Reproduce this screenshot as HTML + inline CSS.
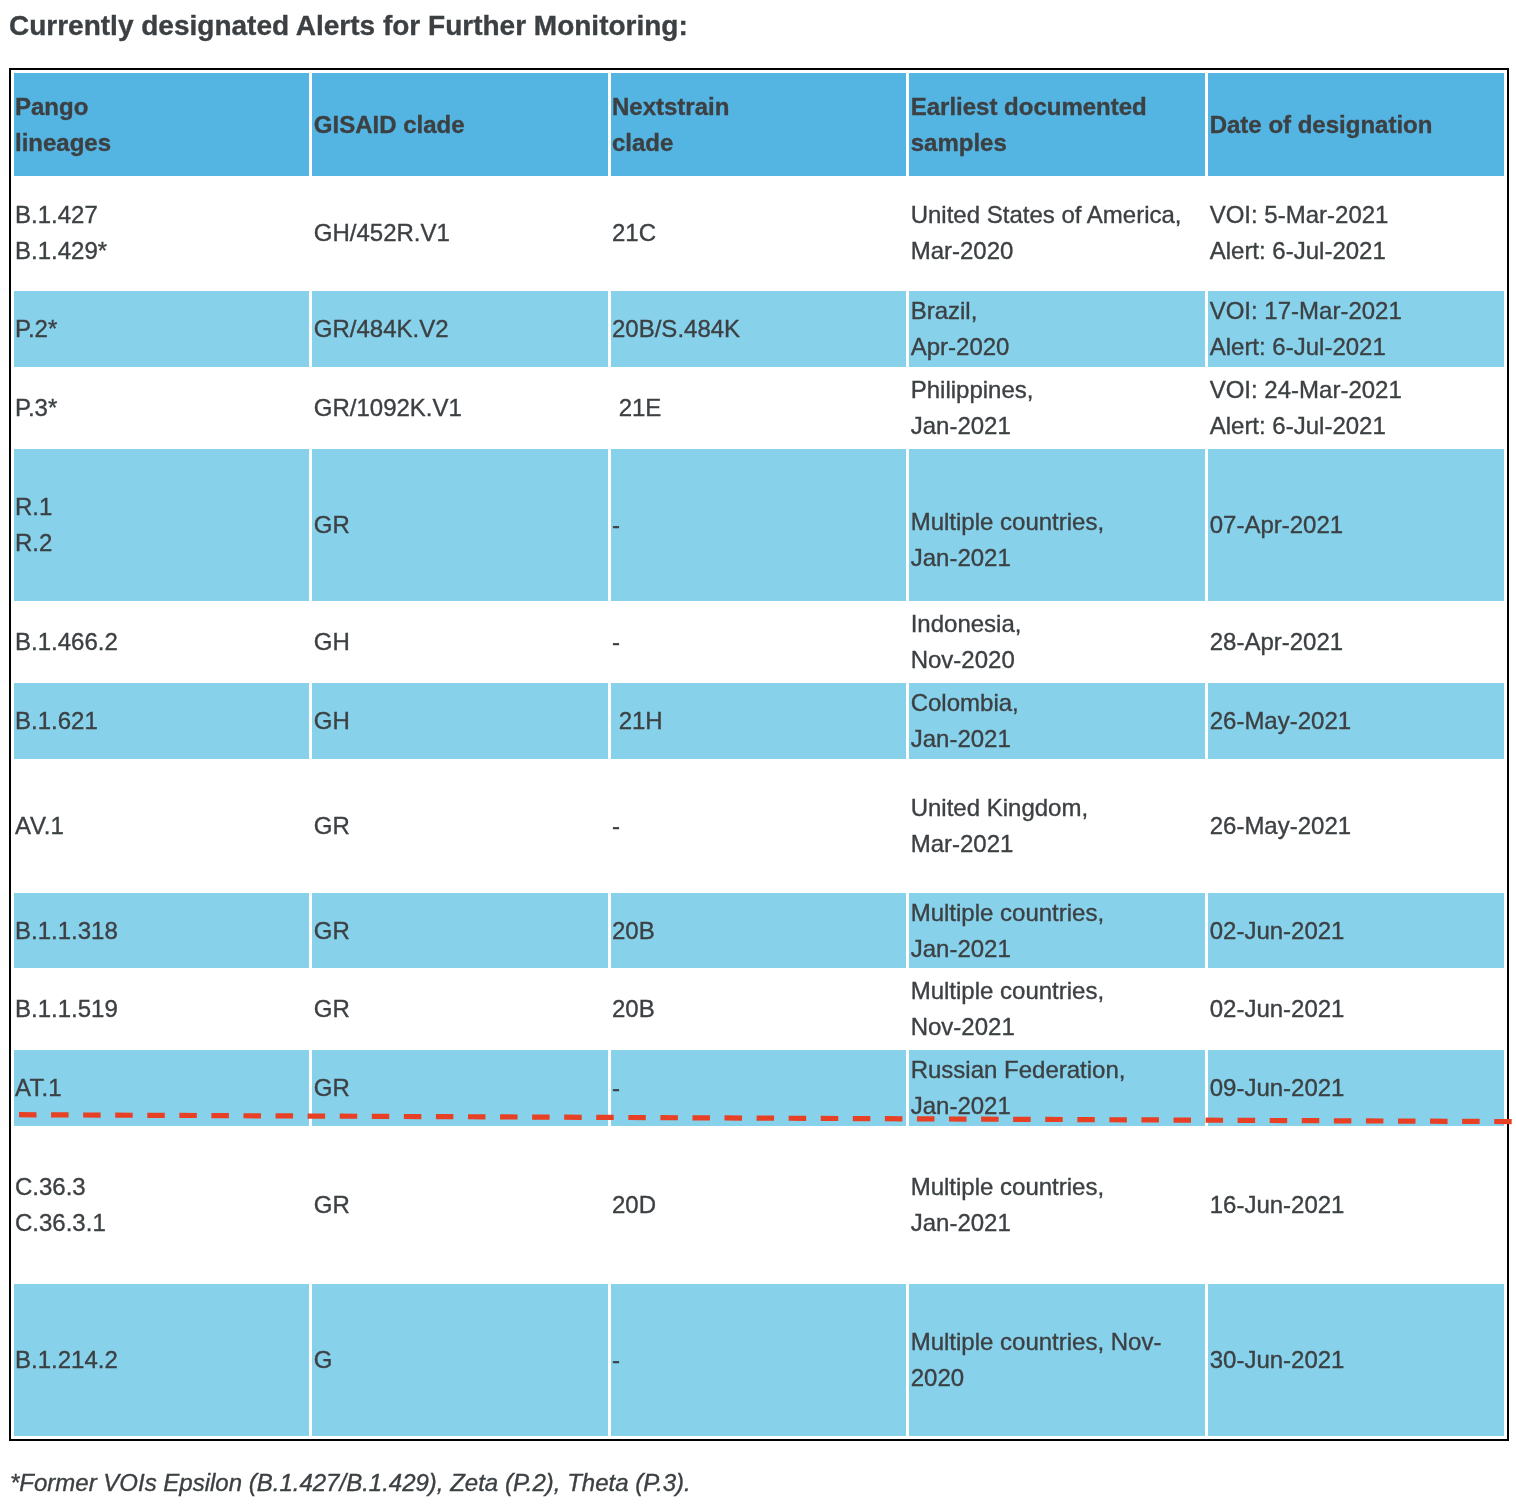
<!DOCTYPE html>
<html>
<head>
<meta charset="utf-8">
<title>Alerts for Further Monitoring</title>
<style>
html,body{margin:0;padding:0;background:#fff;}
body{width:1516px;height:1510px;position:relative;overflow:hidden;font-family:"Liberation Sans",sans-serif;color:#3c4043;will-change:transform;-webkit-text-stroke:0.35px #3c4043;}
h3{position:absolute;left:9px;top:9px;margin:0;font-size:28px;line-height:34px;font-weight:bold;white-space:nowrap;}
table{position:absolute;left:9px;top:68px;width:1500px;border:2px solid #000;border-collapse:separate;border-spacing:3px;table-layout:fixed;box-sizing:border-box;}
td,th{padding:0 0 0 1px;font-size:24px;line-height:36px;text-align:left;vertical-align:middle;font-weight:normal;overflow:hidden;white-space:nowrap;}
th{font-weight:bold;background:#54b5e3;}
td:nth-child(2),th:nth-child(2){padding-left:1.8px;}
td:nth-child(4),th:nth-child(4),td:nth-child(5),th:nth-child(5){padding-left:1.7px;}
tr.b td{background:#87d1eb;}
tr.r1 td{padding-bottom:1px;}
p.fn{position:absolute;left:10px;top:1465px;margin:0;font-size:24px;line-height:36px;font-style:italic;white-space:nowrap;}
</style>
</head>
<body>
<h3>Currently designated Alerts for Further Monitoring:</h3>
<table>
<colgroup><col style="width:295px"><col style="width:296px"><col style="width:295px"><col style="width:296px"><col style="width:296px"></colgroup>
<tr style="height:103px"><th>Pango<br>lineages</th><th>GISAID clade</th><th>Nextstrain<br>clade</th><th>Earliest documented<br>samples</th><th>Date of designation</th></tr>
<tr class="r1" style="height:109px"><td>B.1.427<br>B.1.429*</td><td>GH/452R.V1</td><td>21C</td><td>United States of America,<br>Mar-2020</td><td>VOI: 5-Mar-2021<br>Alert: 6-Jul-2021</td></tr>
<tr class="b" style="height:76px"><td>P.2*</td><td>GR/484K.V2</td><td>20B/S.484K</td><td>Brazil,<br>Apr-2020</td><td>VOI: 17-Mar-2021<br>Alert: 6-Jul-2021</td></tr>
<tr style="height:76px"><td>P.3*</td><td>GR/1092K.V1</td><td>&nbsp;21E</td><td>Philippines,<br>Jan-2021</td><td>VOI: 24-Mar-2021<br>Alert: 6-Jul-2021</td></tr>
<tr class="b" style="height:152px"><td>R.1<br>R.2</td><td>GR</td><td>-</td><td style="padding-top:30px">Multiple countries,<br>Jan-2021</td><td>07-Apr-2021</td></tr>
<tr style="height:76px"><td>B.1.466.2</td><td>GH</td><td>-</td><td>Indonesia,<br>Nov-2020</td><td>28-Apr-2021</td></tr>
<tr class="b" style="height:76px"><td>B.1.621</td><td>GH</td><td>&nbsp;21H</td><td>Colombia,<br>Jan-2021</td><td>26-May-2021</td></tr>
<tr style="height:128px"><td><span style="letter-spacing:-1px">A</span>V.1</td><td>GR</td><td>-</td><td>United Kingdom,<br>Mar-2021</td><td>26-May-2021</td></tr>
<tr class="b" style="height:75px"><td>B.1.1.318</td><td>GR</td><td>20B</td><td>Multiple countries,<br>Jan-2021</td><td>02-Jun-2021</td></tr>
<tr style="height:76px"><td>B.1.1.519</td><td>GR</td><td>20B</td><td>Multiple countries,<br>Nov-2021</td><td>02-Jun-2021</td></tr>
<tr class="b" style="height:76px"><td><span style="letter-spacing:-1.5px">A</span>T.1</td><td>GR</td><td>-</td><td>Russian Federation,<br>Jan-2021</td><td>09-Jun-2021</td></tr>
<tr style="height:152px"><td>C.36.3<br>C.36.3.1</td><td>GR</td><td>20D</td><td>Multiple countries,<br>Jan-2021</td><td>16-Jun-2021</td></tr>
<tr class="b" style="height:152px"><td>B.1.214.2</td><td>G</td><td>-</td><td>Multiple countries, Nov-<br>2020</td><td>30-Jun-2021</td></tr>
</table>
<svg style="position:absolute;left:0;top:1100px" width="1516" height="40" viewBox="0 0 1516 40"><line x1="19" y1="14.7" x2="1512" y2="21.6" stroke="#e84025" stroke-width="5.2" stroke-dasharray="17.5 14.57"/></svg>
<p class="fn">*Former VOIs Epsilon (B.1.427/B.1.429), Zeta (P.2), Theta (P.3).</p>
</body>
</html>
